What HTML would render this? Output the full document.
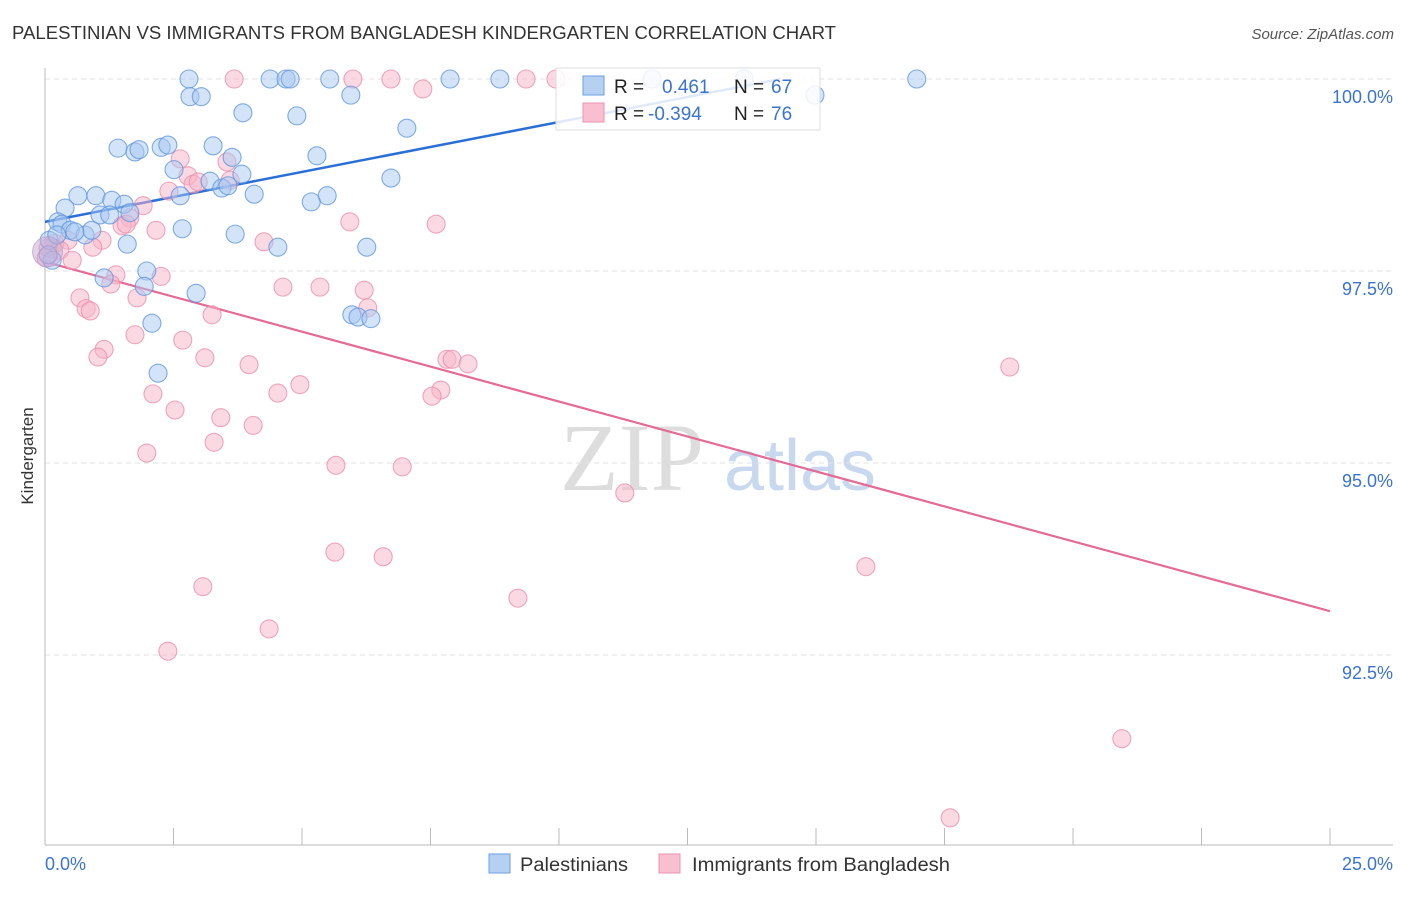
<!DOCTYPE html>
<html><head><meta charset="utf-8"><style>
body{margin:0;background:#fff;font-family:"Liberation Sans",sans-serif}
</style></head><body>
<svg id="chart" width="1406" height="892" xmlns="http://www.w3.org/2000/svg" font-family="Liberation Sans, sans-serif">
<text x="12" y="39" font-size="18" fill="#333" textLength="824" lengthAdjust="spacingAndGlyphs">PALESTINIAN VS IMMIGRANTS FROM BANGLADESH KINDERGARTEN CORRELATION CHART</text>
<text x="1394" y="39" font-size="15" fill="#555" text-anchor="end" font-style="italic">Source: ZipAtlas.com</text>
<text transform="translate(33,456) rotate(-90)" font-size="17" fill="#333" text-anchor="middle">Kindergarten</text>
<g>
<text x="632" y="490" font-size="96" fill="#ddd" font-family="Liberation Serif, serif" text-anchor="middle">ZIP</text>
<text x="800" y="490" font-size="72" fill="#c8d8ee" text-anchor="middle">atlas</text>
</g>
<g id="grid"></g>
<g id="axes"></g>
<g id="lines"></g>
<g id="pts"></g>
<g>
<rect x="556" y="68" width="264" height="62" fill="#fff" fill-opacity="0.85" stroke="#ddd"/>
<rect x="583" y="76" width="21" height="19" fill="#b6d0f2" stroke="#6d9ee0"/>
<rect x="583" y="103" width="21" height="19" fill="#f7bfd0" stroke="#ec93b0"/>
<text x="614" y="93" font-size="19" fill="#222">R = </text><text x="662" y="93" font-size="19" fill="#3a73d0">0.461</text>
<text x="734" y="93" font-size="19" fill="#222">N = </text><text x="771" y="93" font-size="19" fill="#3a73d0">67</text>
<text x="614" y="120" font-size="19" fill="#222">R = </text><text x="648" y="120" font-size="19" fill="#3a73d0">-0.394</text>
<text x="734" y="120" font-size="19" fill="#222">N = </text><text x="771" y="120" font-size="19" fill="#3a73d0">76</text>
</g>
<g>
<rect x="489" y="854" width="21" height="19" fill="#b6d0f2" stroke="#6d9ee0"/>
<text x="520" y="871" font-size="19" fill="#333" textLength="108" lengthAdjust="spacingAndGlyphs">Palestinians</text>
<rect x="659" y="854" width="21" height="19" fill="#f7bfd0" stroke="#ec93b0"/>
<text x="692" y="871" font-size="19" fill="#333" textLength="258" lengthAdjust="spacingAndGlyphs">Immigrants from Bangladesh</text>
</g>
</svg>
<script>
const blueX=[2.80,4.38,4.69,4.77,5.54,7.88,8.85,11.81,13.60,16.96,2.82,3.04,5.95,14.98,3.85,4.90,7.04,1.42,1.75,1.83,2.26,2.39,3.27,3.64,5.29,2.51,3.21,3.83,6.73,3.44,3.56,4.07,2.63,0.64,0.99,1.30,5.49,5.18,0.39,1.54,1.07,1.26,1.65,0.25,0.33,0.49,0.78,0.91,2.67,3.70,0.08,1.60,4.53,6.26,1.98,1.15,1.93,2.94,5.97,6.09,6.34,2.08,2.20,0.14,0.06,0.58,0.23];
const blueY=[100,100,100,100,100,100,100,100,100,100,99.77,99.77,99.79,99.79,99.56,99.52,99.36,99.10,99.05,99.08,99.11,99.14,99.13,98.98,99.00,98.82,98.67,98.76,98.71,98.58,98.61,98.50,98.48,98.48,98.48,98.42,98.48,98.40,98.32,98.37,98.23,98.23,98.26,98.14,98.11,98.03,97.97,98.03,98.05,97.98,97.90,97.85,97.81,97.81,97.50,97.41,97.30,97.21,96.93,96.90,96.88,96.82,96.17,97.64,97.71,98.01,97.97];
const pinkX=[3.68,5.99,6.73,9.36,9.94,7.35,2.63,3.54,2.78,2.88,2.98,2.41,3.60,1.91,1.65,1.50,1.58,2.16,5.93,7.61,4.26,1.11,0.93,0.45,0.19,0.29,0.06,0.02,0.53,1.38,2.26,1.28,4.63,5.35,6.21,0.68,1.79,0.80,0.88,6.28,3.25,1.75,2.68,1.15,1.03,3.11,3.97,7.82,7.92,8.23,18.77,4.96,4.53,2.10,7.70,7.53,2.53,3.42,4.05,3.29,1.98,5.66,6.95,11.28,5.64,6.58,15.97,3.07,9.20,4.36,2.39,20.95,17.61];
const pinkY=[100,100,100,100,100,99.87,98.96,98.92,98.74,98.63,98.66,98.54,98.68,98.35,98.19,98.09,98.11,98.03,98.14,98.11,97.88,97.90,97.81,97.90,97.86,97.77,97.80,97.67,97.64,97.45,97.43,97.33,97.29,97.29,97.25,97.15,97.15,97.01,96.98,97.02,96.93,96.67,96.60,96.48,96.38,96.37,96.28,96.35,96.35,96.29,96.25,96.02,95.91,95.90,95.95,95.87,95.69,95.59,95.49,95.27,95.13,94.97,94.95,94.61,93.84,93.78,93.65,93.39,93.24,92.84,92.55,91.41,90.38];
const yTicks=[100,97.5,95,92.5];
const yTickLabels=["100.0%","97.5%","95.0%","92.5%"];
const xTicks=[0,2.5,5,7.5,10,12.5,15,17.5,20,22.5,25];
const xEndLabels=["0.0%","25.0%"];
const blueTrend=[98.14,0.13,14.3];
const pinkTrend=[97.62,-0.182,25];
const NS="http://www.w3.org/2000/svg";
const X=v=>45+v*51.4, Y=v=>79+(100-v)*76.8;
function mk(t,a,p){const e=document.createElementNS(NS,t);for(const k in a)e.setAttribute(k,a[k]);document.getElementById(p).appendChild(e);return e;}
yTicks.forEach((t,i)=>{
 const l=mk('line',{x1:45,x2:1393,y1:Y(t),y2:Y(t),stroke:'#e2e2e2','stroke-dasharray':'5,4'},'grid');
 
 
 const tx=mk('text',{x:1393,y:Y(t)+24,'font-size':18,fill:'#3a73d0','text-anchor':'end'},'axes');
 tx.textContent=yTickLabels[i];
 
 
});
const ya=mk('line',{x1:45,x2:45,y1:68,y2:845,stroke:'#bbb'},'axes');


const xa=mk('line',{x1:45,x2:1393,y1:845,y2:845,stroke:'#bbb'},'axes');


xTicks.forEach(t=>{
 const l=mk('line',{x1:X(t),x2:X(t),y1:828,y2:845,stroke:'#bbb'},'axes');
 
 
});
[[0,'start',45],[25,'end',1393]].forEach((d,i)=>{
 const tx=mk('text',{x:d[2],y:870,'font-size':18,fill:'#3a73d0','text-anchor':d[1]},'axes');
 tx.textContent=xEndLabels[i];
 
 
});
function pts(xs,ys,fill,stroke,name){
 xs.forEach((x,i)=>{
  const c=mk('circle',{cx:X(x),cy:Y(ys[i]),r:9,fill:fill,'fill-opacity':0.5,stroke:stroke,'stroke-opacity':0.75,'stroke-width':1.1},'pts');
  
  
 });
}
pts(pinkX,pinkY,'#f7b3c8','#ea8aab','bangladesh-point');
pts(blueX,blueY,'#a8c8f2','#5a92dc','palestinian-point');
const big=mk('circle',{cx:X(0.05),cy:Y(97.75),r:15,fill:'#c9a8d0','fill-opacity':0.5,stroke:'#b79ad0','stroke-opacity':0.7},'pts');


const bl=mk('line',{x1:X(0),y1:Y(blueTrend[0]),x2:X(blueTrend[2]),y2:Y(blueTrend[0]+blueTrend[1]*blueTrend[2]),stroke:'#2a6fd6','stroke-width':2.5},'lines');


const pl=mk('line',{x1:X(0),y1:Y(pinkTrend[0]),x2:X(pinkTrend[2]),y2:Y(pinkTrend[0]+pinkTrend[1]*pinkTrend[2]),stroke:'#e56a95','stroke-width':2.2},'lines');


</script>
</body></html>
